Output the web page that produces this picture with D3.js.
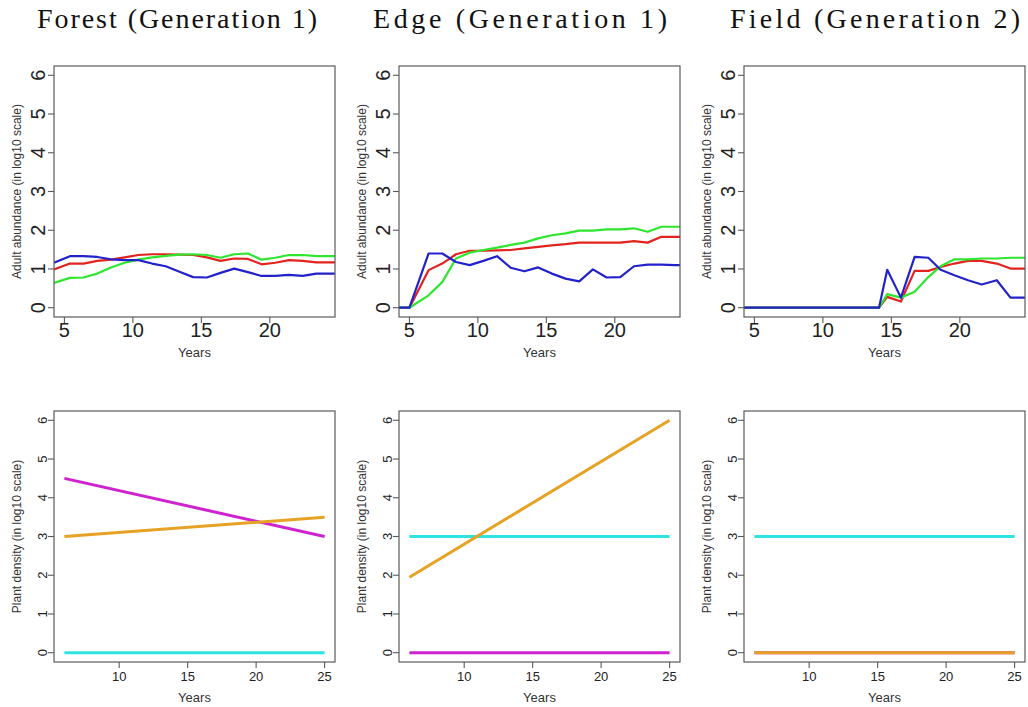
<!DOCTYPE html>
<html>
<head>
<meta charset="utf-8">
<script src="https://cdn.jsdelivr.net/npm/d3@7"></script>
<style>
  body { margin: 0; background: #fff; }
  svg { display: block; }
</style>
</head>
<body>
<div id="chart"></div>
<script>
// ---- data ----
const titles = ["Forest (Generation 1)", "Edge (Generation 1)", "Field (Generation 2)"];

// adult abundance, log10, top row
const forestYears = [4.24, 5.4, 6.4, 7.4, 8.4, 9.4, 10.4, 11.4, 12.4, 13.4, 14.4, 15.4, 16.4, 17.4, 18.4, 19.4, 20.4, 21.4, 22.4, 23.4, 24.4, 25];
const forestRed   = [0.99, 1.14, 1.14, 1.21, 1.24, 1.30, 1.36, 1.38, 1.38, 1.37, 1.36, 1.30, 1.21, 1.27, 1.26, 1.12, 1.16, 1.23, 1.21, 1.17, 1.17, 1.17];
const forestGreen = [0.64, 0.77, 0.78, 0.88, 1.04, 1.16, 1.24, 1.30, 1.34, 1.37, 1.38, 1.36, 1.29, 1.38, 1.40, 1.24, 1.29, 1.36, 1.36, 1.33, 1.33, 1.33];
const forestBlue  = [1.16, 1.33, 1.33, 1.31, 1.25, 1.23, 1.23, 1.14, 1.07, 0.93, 0.79, 0.78, 0.90, 1.01, 0.92, 0.82, 0.82, 0.85, 0.82, 0.88, 0.88, 0.88];

const edgeYears = [4.24, 5.0, 6.4, 7.4, 8.4, 9.4, 10.4, 11.4, 12.4, 13.4, 14.4, 15.4, 16.4, 17.4, 18.4, 19.4, 20.4, 21.4, 22.4, 23.4, 24.4, 25];
const edgeRed   = [0, 0, 0.97, 1.14, 1.38, 1.47, 1.47, 1.48, 1.49, 1.53, 1.57, 1.61, 1.64, 1.68, 1.68, 1.68, 1.68, 1.72, 1.68, 1.83, 1.83, 1.83];
const edgeGreen = [0, 0, 0.32, 0.66, 1.27, 1.42, 1.49, 1.55, 1.62, 1.68, 1.79, 1.87, 1.92, 1.99, 1.99, 2.02, 2.02, 2.05, 1.96, 2.09, 2.09, 2.09];
const edgeBlue  = [0, 0, 1.40, 1.40, 1.18, 1.10, 1.21, 1.33, 1.03, 0.94, 1.04, 0.88, 0.75, 0.68, 0.99, 0.78, 0.79, 1.07, 1.11, 1.11, 1.10, 1.10];

const fieldYears = [4.24, 14.1, 14.7, 15.7, 16.7, 17.7, 18.6, 19.6, 20.6, 21.6, 22.7, 23.7, 25];
const fieldRed   = [0, 0, 0.28, 0.16, 0.95, 0.95, 1.05, 1.14, 1.21, 1.21, 1.14, 1.01, 1.01];
const fieldGreen = [0, 0, 0.35, 0.26, 0.41, 0.79, 1.07, 1.25, 1.25, 1.27, 1.27, 1.29, 1.29];
const fieldBlue  = [0, 0, 0.98, 0.26, 1.31, 1.29, 0.98, 0.84, 0.71, 0.60, 0.71, 0.26, 0.26];

// plant density, log10, bottom row (straight lines, endpoints)
const plantYears = [6, 25];
const forestMagenta = [4.5, 3.0];
const forestCyan    = [0, 0];
const forestOrange  = [3.0, 3.5];
const edgeMagenta = [0, 0];
const edgeCyan    = [3, 3];
const edgeOrange  = [1.95, 6.0];
const fieldMagenta = [0, 0];
const fieldCyan    = [3, 3];
const fieldOrange  = [0, 0];

const yTicks = [0, 1, 2, 3, 4, 5, 6];
const adultXTicks = [5, 10, 15, 20];
const plantXTicks = [10, 15, 20, 25];

const colors = {
  red: "#e3231e", green: "#2ee62e", blue: "#2222cc",
  magenta: "#cf22cf", cyan: "#2fe3e3", orange: "#e6a224"
};

// ---- layout ----
const width = 1028, height = 707;
const panelLeft = [54, 399, 744];
const panelW = 281;
const rows = [
  { top: 66, bottom: 317, xDomain: [4.24, 24.76], xTicks: adultXTicks, tickFont: 20,
    ylab: "Adult abundance (in log10 scale)", lw: 2.2, xTickBase: 337, yTickBase: 45, yearsBase: 357,
    series: [
      [[forestYears, forestRed, "red"], [forestYears, forestGreen, "green"], [forestYears, forestBlue, "blue"]],
      [[edgeYears, edgeRed, "red"], [edgeYears, edgeGreen, "green"], [edgeYears, edgeBlue, "blue"]],
      [[fieldYears, fieldRed, "red"], [fieldYears, fieldGreen, "green"], [fieldYears, fieldBlue, "blue"]]
    ] },
  { top: 411, bottom: 662, xDomain: [5.24, 25.76], xTicks: plantXTicks, tickFont: 13,
    ylab: "Plant density (in log10 scale)", lw: 3, xTickBase: 681, yTickBase: 46.5, yearsBase: 702,
    series: [
      [[plantYears, forestMagenta, "magenta"], [plantYears, forestCyan, "cyan"], [plantYears, forestOrange, "orange"]],
      [[plantYears, edgeMagenta, "magenta"], [plantYears, edgeCyan, "cyan"], [plantYears, edgeOrange, "orange"]],
      [[plantYears, fieldMagenta, "magenta"], [plantYears, fieldCyan, "cyan"], [plantYears, fieldOrange, "orange"]]
    ] }
];

const svg = d3.select("#chart").append("svg")
  .attr("width", width).attr("height", height)
  .style("font-family", "Arial, 'Liberation Sans', sans-serif");

// titles
const titleCenters = [177, 520, 875];
const titleWidths = [280, 294, 290];
titles.forEach((t, i) => {
  svg.append("text")
    .attr("x", titleCenters[i]).attr("y", 28)
    .attr("text-anchor", "middle")
    .attr("font-family", "'Liberation Serif', 'DejaVu Serif', serif")
    .attr("font-size", 28)
    .attr("fill", "#111")
    .attr("textLength", titleWidths[i])
    .attr("lengthAdjust", "spacing")
    .text(t);
});

const boxColor = "#5a5a5a";
let clipId = 0;

rows.forEach((row) => {
  panelLeft.forEach((left, pi) => {
    const x = d3.scaleLinear().domain(row.xDomain).range([left, left + panelW]);
    const y = d3.scaleLinear().domain([-0.24, 6.24]).range([row.bottom, row.top]);
    const g = svg.append("g");

    const id = "clip" + (clipId++);
    g.append("clipPath").attr("id", id).append("rect")
      .attr("x", left).attr("y", row.top)
      .attr("width", panelW).attr("height", row.bottom - row.top);

    const line = d3.line().x((d) => x(d[0])).y((d) => y(d[1]));
    const lines = g.append("g").attr("clip-path", `url(#${id})`);
    row.series[pi].forEach(([xs, ys, c]) => {
      lines.append("path")
        .datum(xs.map((v, k) => [v, ys[k]]))
        .attr("d", line)
        .attr("fill", "none")
        .attr("stroke", colors[c])
        .attr("stroke-width", row.lw)
        .attr("stroke-linejoin", "round");
    });

    // box
    g.append("rect")
      .attr("x", left).attr("y", row.top)
      .attr("width", panelW).attr("height", row.bottom - row.top)
      .attr("fill", "none").attr("stroke", boxColor).attr("stroke-width", 1.2);

    // x axis ticks
    const xAxis = g.append("g");
    xAxis.selectAll("line").data(row.xTicks).join("line")
      .attr("x1", (d) => x(d)).attr("x2", (d) => x(d))
      .attr("y1", row.bottom).attr("y2", row.bottom + 6)
      .attr("stroke", boxColor).attr("stroke-width", 1.1);
    xAxis.selectAll("text").data(row.xTicks).join("text")
      .attr("x", (d) => x(d)).attr("y", row.xTickBase)
      .attr("text-anchor", "middle")
      .attr("font-size", row.tickFont)
      .attr("fill", "#222")
      .text((d) => d);

    // y axis ticks (labels rotated, as in base R)
    const yAxis = g.append("g");
    yAxis.selectAll("line").data(yTicks).join("line")
      .attr("x1", left).attr("x2", left - 6)
      .attr("y1", (d) => y(d)).attr("y2", (d) => y(d))
      .attr("stroke", boxColor).attr("stroke-width", 1.1);
    yAxis.selectAll("text").data(yTicks).join("text")
      .attr("transform", (d) => `translate(${left - 54 + row.yTickBase},${y(d)}) rotate(-90)`)
      .attr("text-anchor", "middle")
      .attr("font-size", row.tickFont)
      .attr("fill", "#222")
      .text((d) => d);

    // axis titles
    g.append("text")
      .attr("x", left + panelW / 2).attr("y", row.yearsBase)
      .attr("text-anchor", "middle")
      .attr("font-size", 13)
      .attr("fill", "#333")
      .text("Years");
    g.append("text")
      .attr("transform", `translate(${left - 33},${(row.top + row.bottom) / 2}) rotate(-90)`)
      .attr("text-anchor", "middle")
      .attr("font-size", 12)
      .attr("fill", "#333")
      .text(row.ylab);
  });
});
</script>
</body>
</html>
